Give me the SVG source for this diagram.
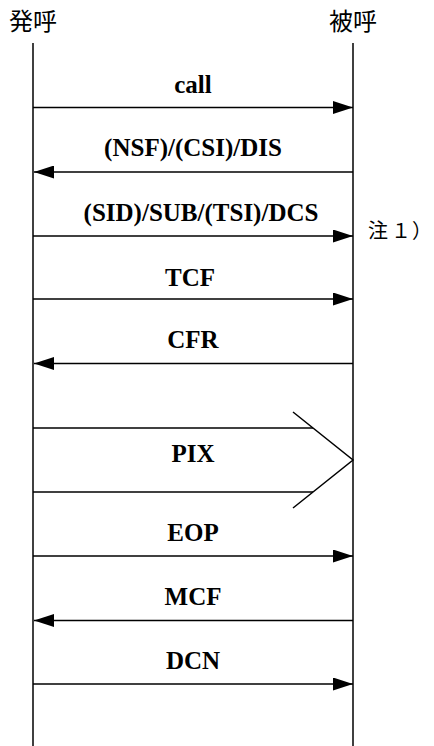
<svg xmlns="http://www.w3.org/2000/svg" width="434" height="746" viewBox="0 0 434 746">
<style>
.life{stroke:#000;stroke-width:1.5;fill:none}
.msg{stroke:#000;stroke-width:1.5;fill:none}
.lbl{font-family:'Liberation Serif','Times New Roman',serif;font-size:25px;font-weight:bold;fill:#000;text-anchor:middle}
.cjk{font-family:'Noto Sans CJK JP','Noto Sans CJK SC',sans-serif;fill:#000}
</style>
<defs>
<marker id="ah" markerWidth="20" markerHeight="13" refX="20" refY="6.5" orient="auto" markerUnits="userSpaceOnUse">
<path d="M0,0 L20,6.5 L0,13 Z" fill="#000"/>
</marker>
</defs>
<g id="caller">
<text class="cjk" x="9" y="30" font-size="24">発呼</text>
<line class="life" x1="33" y1="43" x2="33" y2="746"/>
</g>
<g id="callee">
<text class="cjk" x="329" y="30" font-size="24">被呼</text>
<line class="life" x1="353" y1="43" x2="353" y2="746"/>
</g>
<g id="note">
<text class="cjk" y="238" font-size="20"><tspan x="368">注</tspan><tspan x="391">１</tspan><tspan x="412">）</tspan></text>
</g>
<g id="connectors">
<line class="msg" x1="33" y1="107.5" x2="353" y2="107.5" marker-end="url(#ah)"/>
<line class="msg" x1="353" y1="172" x2="34" y2="172" marker-end="url(#ah)"/>
<line class="msg" x1="33" y1="236" x2="353" y2="236" marker-end="url(#ah)"/>
<line class="msg" x1="33" y1="299" x2="353" y2="299" marker-end="url(#ah)"/>
<line class="msg" x1="353" y1="363.5" x2="34" y2="363.5" marker-end="url(#ah)"/>
<g id="pix-arrow">
<line class="msg" x1="33" y1="428" x2="313" y2="428"/>
<line class="msg" x1="33" y1="492" x2="313" y2="492"/>
<polyline class="msg" points="293,412 353,460 293,508"/>
</g>
<line class="msg" x1="33" y1="556" x2="353" y2="556" marker-end="url(#ah)"/>
<line class="msg" x1="353" y1="620.5" x2="34" y2="620.5" marker-end="url(#ah)"/>
<line class="msg" x1="33" y1="684" x2="353" y2="684" marker-end="url(#ah)"/>
</g>
<g id="labels">
<text class="lbl" x="193" y="93">call</text>
<text class="lbl" x="193" y="156">(NSF)/(CSI)/DIS</text>
<text class="lbl" x="201" y="221">(SID)/SUB/(TSI)/DCS</text>
<text class="lbl" x="190" y="286">TCF</text>
<text class="lbl" x="193" y="348">CFR</text>
<text class="lbl" x="193" y="462">PIX</text>
<text class="lbl" x="193" y="541">EOP</text>
<text class="lbl" x="193" y="605">MCF</text>
<text class="lbl" x="193" y="669">DCN</text>
</g>
</svg>
